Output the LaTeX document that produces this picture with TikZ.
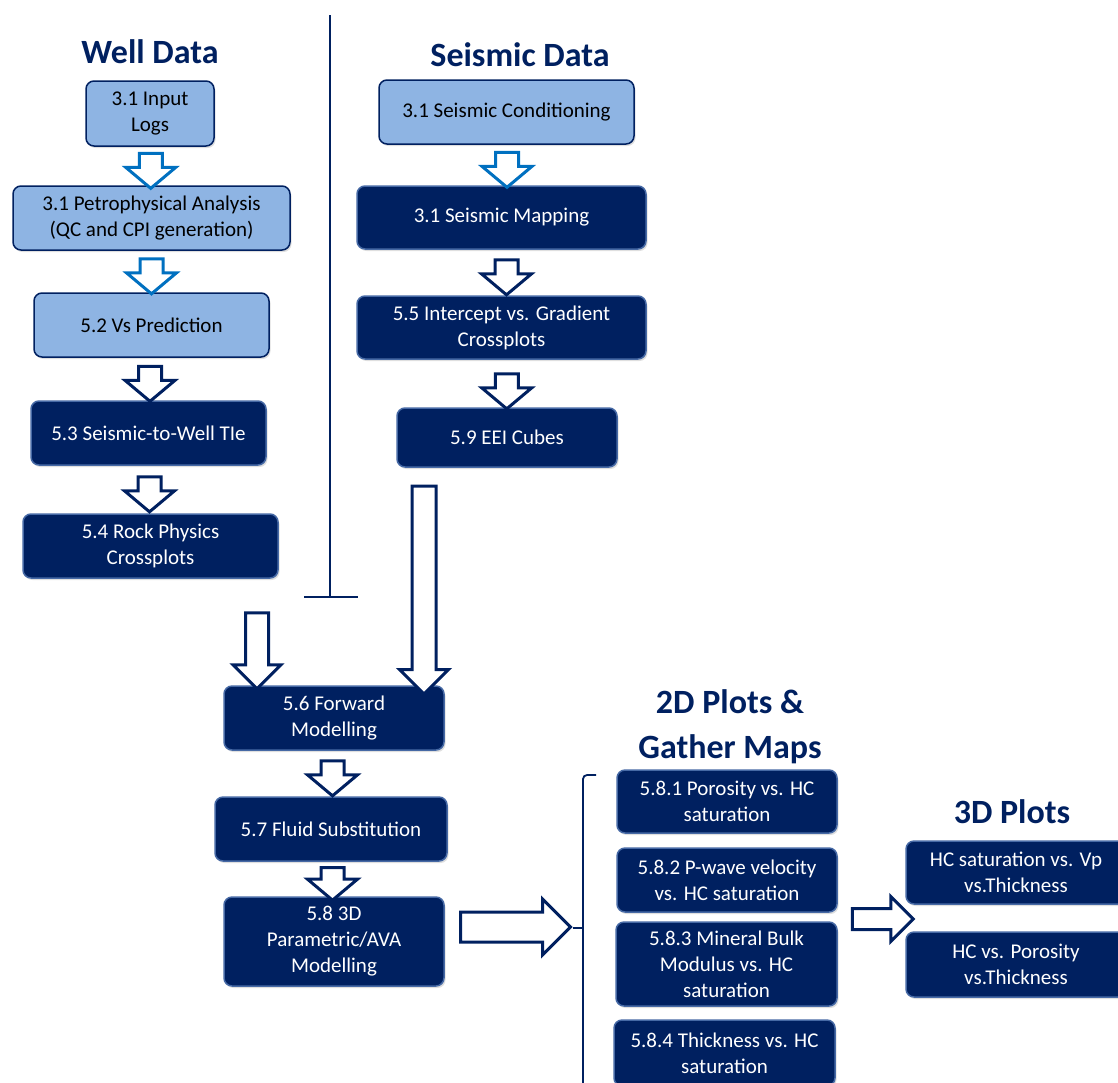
\documentclass[tikz,border=0pt]{standalone}
\usepackage{fontspec}
\setmainfont{Carlito}
\usetikzlibrary{shapes.arrows,shadows,positioning}
\definecolor{navy}{RGB}{0,32,96}
\definecolor{lightfill}{RGB}{142,180,227}
\definecolor{arrowblue}{RGB}{0,112,192}
\definecolor{rim}{RGB}{70,105,165}
\tikzset{
  base/.style={rounded corners=8pt, align=center, inner sep=0pt,
    font=\fontsize{21}{26}\selectfont,
    drop shadow={opacity=0.25,shadow xshift=1.5pt,shadow yshift=-2pt}},
  wh/.style 2 args={minimum width=#1pt, minimum height=#2pt},
  lightbox/.style={base, fill=lightfill, draw=navy, line width=1.5pt, text=black},
  darkbox/.style={base, fill=navy, draw=rim, line width=1.5pt, text=white},
  title/.style={font=\fontsize{34}{45}\selectfont\bfseries, text=navy, align=center},
  blk/.style={single arrow, shape border rotate=270, draw=navy, fill=white,
    line width=3pt, inner sep=10pt, single arrow head indent=0pt,
    minimum height=35pt, minimum width=47pt, single arrow head extend=13.5pt,
    single arrow tip angle=100},
  lightblk/.style={blk, draw=arrowblue},
}
\begin{document}
\begin{tikzpicture}[x=1pt,y=-1pt]
  \useasboundingbox (0,0) rectangle (1118,1082);

  % column titles
  \node[title] (welltitle) at (150,52) {Well Data};
  \node[title] (seistitle) at (520,55) {Seismic Data};
  \node[title] (twodtitle) at (730,727) {2D Plots \&\\Gather Maps};
  \node[title] (threedtitle) at (1012,812) {3D Plots};

  % well column
  \node[lightbox, wh={128}{65}] (in) at (150,113.5) {3.1 Input\\Logs};
  \node[lightbox, wh={277}{64}] (pet) at (151.5,218) {3.1 Petrophysical Analysis\\(QC and CPI generation)};
  \node[lightbox, wh={235}{64}] (vsp) at (151.5,325) {5.2 Vs Prediction};
  \node[darkbox, wh={235}{64}] (tie) at (148.5,433) {5.3 Seismic-to-Well TIe};
  \node[darkbox, wh={255}{64}] (rock) at (150.5,546) {5.4 Rock Physics\\Crossplots};

  % seismic column
  \node[lightbox, wh={255}{64}] (scond) at (506.5,112) {3.1 Seismic Conditioning};
  \node[darkbox, wh={289}{63}] (smap) at (501.5,217.5) {3.1 Seismic Mapping};
  \node[darkbox, wh={289}{63}] (icpt) at (501.5,327.5) {5.5 Intercept vs. Gradient\\Crossplots};
  \node[darkbox, wh={220}{59}] (eei) at (507,437.5) {5.9 EEI Cubes};

  % divider
  \draw[navy, line width=1.5pt] (330,15) -- (330,597) (304,597) -- (358,597);

  % modelling
  \node[darkbox, wh={220}{64}] (fwd) at (334,718) {5.6 Forward\\Modelling};
  \node[darkbox, wh={232}{64}] (fluid) at (331,829) {5.7 Fluid Substitution};
  \node[darkbox, wh={220}{89}] (ava) at (334,941.5) {5.8 3D\\Parametric/AVA\\Modelling};

  % 2D plots
  \node[darkbox, wh={220}{63}] (poro) at (727,801.5) {5.8.1 Porosity vs. HC\\saturation};
  \node[darkbox, wh={220}{64}] (pwave) at (727,880) {5.8.2 P-wave velocity\\vs. HC saturation};
  \node[darkbox, wh={221}{84}] (bulk) at (726.5,964) {5.8.3 Mineral Bulk\\Modulus vs. HC\\saturation};
  \node[darkbox, wh={221}{66}] (thick) at (724.5,1053) {5.8.4 Thickness vs. HC\\saturation};

  % 3D plots
  \node[darkbox, wh={220}{63}] (satvp) at (1016,872.5) {HC saturation vs. Vp\\vs.Thickness};
  \node[darkbox, wh={220}{65}] (hcporo) at (1016,964.5) {HC vs. Porosity\\vs.Thickness};

  % brace
  \draw[navy, line width=1.8pt, rounded corners=4pt] (596,775) -- (583,775) -- (583,1090);
  \draw[navy, line width=1.8pt] (583,928) -- (573,928);

  % free arrow ends
  \coordinate (eeiout) at (424,480);
  \coordinate (fwdinr) at (424,688);
  \coordinate (wellout) at (257,607);
  \coordinate (fwdinl) at (257,683);
  \coordinate (avaout) at (453,927);
  \coordinate (bracein) at (563,927);
  \coordinate (twodout) at (847,919);
  \coordinate (threedin) at (908,919);

  % block arrows
  \path (in.south) -- (pet.north) node[midway, lightblk] (a1) {};
  \path (pet.south) -- (vsp.north) node[midway, lightblk] (a2) {};
  \path (vsp.south) -- (tie.north) node[midway, blk] (a3) {};
  \path (tie.south) -- (rock.north) node[midway, blk] (a4) {};
  \path ([xshift=3pt]scond.south) -- ([xshift=3pt]smap.north) node[midway, lightblk] (sa1) {};
  \path ([xshift=5pt]smap.south) -- ([xshift=5pt]icpt.north) node[midway, blk] (sa2) {};
  \path ([xshift=5pt]icpt.south) -- ([yshift=-6pt]eei.north) node[midway, blk] (sa3) {};
  \path (fwd.south) -- (fluid.north) node[midway, blk] (f1) {};
  \path (fluid.south) -- (ava.north) node[midway, blk, minimum height=30pt] (f2) {};
  \path (eeiout) -- (fwdinr) node[midway, blk, inner sep=10.5pt, minimum height=208pt,
    minimum width=46pt, single arrow head extend=12.5pt, single arrow tip angle=90] (long) {};
  \path (wellout) -- (fwdinl) node[midway, blk, minimum height=76pt, minimum width=45pt,
    single arrow head extend=12.5pt, single arrow tip angle=90] (short) {};
  \path (avaout) -- (bracein) node[midway, blk, shape border rotate=0, inner sep=13.5pt,
    minimum height=110pt, minimum width=53pt, single arrow head extend=13pt,
    single arrow tip angle=90] (big) {};
  \path (twodout) -- (threedin) node[midway, blk, shape border rotate=0, inner sep=9pt,
    minimum height=61pt, minimum width=42pt, single arrow head extend=12pt,
    single arrow tip angle=90] (small) {};
\end{tikzpicture}
\end{document}
